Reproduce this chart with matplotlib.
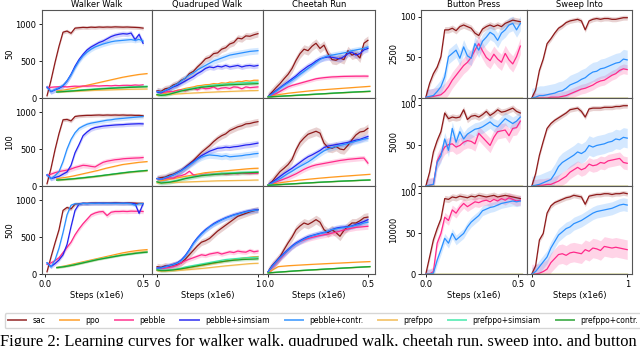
import numpy as np
import matplotlib.pyplot as plt
from matplotlib.lines import Line2D

plt.rcParams['font.size'] = 6

METHODS = ['sac', 'ppo', 'pebble', 'pebble+simsiam', 'pebble+contr.',
           'prefppo', 'prefppo+simsiam', 'prefppo+contr.']
PPO_FAMILY = ['ppo', 'prefppo', 'prefppo+simsiam', 'prefppo+contr.']
COLORS = {
    'sac': '#8e1b1b',
    'ppo': '#ff9a1f',
    'pebble': '#ff2a8a',
    'pebble+simsiam': '#2424f0',
    'pebble+contr.': '#2a90ff',
    'prefppo': '#f2b94e',
    'prefppo+simsiam': '#3ee8a8',
    'prefppo+contr.': '#1f9e2a',
}

# step range (x1e6) covered by each family of runs
walker_steps = {'pebble': (0.01, 0.5), 'ppo': (0.06, 0.52)}
quadruped_steps = {'pebble': (0.0, 1.0), 'ppo': (0.0, 1.0)}
cheetah_steps = {'pebble': (0.0, 0.5), 'ppo': (0.0, 0.51)}
button_steps = {'pebble': (0.0, 0.51), 'ppo': (0.0, 0.52)}
sweep_steps = {'pebble': (0.0, 1.0), 'ppo': (0.0, 1.0)}

# ---------------- walker walk ----------------
walker_50 = {
    'sac': [30, 240, 480, 700, 890, 905, 875, 945, 950, 955, 952, 958, 955, 960, 957, 960, 958, 962, 960, 958, 960, 957, 955, 952, 945],
    'pebble': [140, 145, 150, 152, 155, 150, 156, 160, 158, 162, 160, 163, 165, 162, 166, 168, 165, 170, 167, 171, 172, 170, 176, 172, 178],
    'pebble+simsiam': [150, 85, 110, 130, 165, 230, 320, 430, 520, 590, 650, 690, 720, 750, 770, 800, 830, 850, 862, 870, 865, 878, 790, 860, 740],
    'pebble+contr.': [140, 90, 115, 140, 170, 230, 310, 410, 500, 570, 620, 660, 690, 710, 730, 745, 760, 770, 775, 780, 785, 790, 780, 792, 770],
    'ppo': [95, 110, 130, 155, 180, 205, 230, 255, 280, 300, 318, 330],
    'prefppo': [80, 85, 90, 95, 100, 105, 108, 112, 115, 118, 120, 122],
    'prefppo+simsiam': [85, 92, 100, 110, 118, 126, 134, 140, 146, 152, 156, 160],
    'prefppo+contr.': [80, 88, 95, 104, 112, 120, 127, 133, 139, 144, 148, 152],
}
walker_50_std = {'sac': 25, 'pebble': 15, 'pebble+simsiam': 35, 'pebble+contr.': 35,
                 'ppo': 8, 'prefppo': 8, 'prefppo+simsiam': 10, 'prefppo+contr.': 10}

walker_100 = {
    'sac': [30, 240, 490, 710, 895, 900, 880, 940, 948, 952, 955, 955, 958, 960, 957, 960, 958, 960, 958, 960, 957, 958, 955, 955, 950],
    'pebble': [140, 160, 180, 195, 205, 215, 230, 250, 265, 280, 275, 265, 258, 290, 320, 335, 345, 355, 360, 368, 372, 375, 378, 380, 385],
    'pebble+simsiam': [150, 100, 115, 130, 160, 190, 280, 450, 560, 680, 730, 770, 790, 800, 810, 815, 820, 825, 828, 830, 835, 838, 840, 842, 840],
    'pebble+contr.': [150, 100, 140, 195, 330, 500, 630, 720, 780, 810, 835, 850, 860, 870, 880, 890, 895, 905, 910, 915, 920, 925, 930, 935, 940],
    'ppo': [100, 115, 135, 160, 185, 210, 240, 265, 290, 305, 320, 330],
    'prefppo': [78, 86, 95, 106, 118, 130, 145, 158, 172, 185, 196, 205],
    'prefppo+simsiam': [82, 90, 100, 112, 124, 137, 150, 165, 180, 192, 202, 212],
    'prefppo+contr.': [80, 88, 97, 108, 120, 133, 148, 162, 176, 190, 200, 210],
}
walker_100_std = {'sac': 25, 'pebble': 35, 'pebble+simsiam': 30, 'pebble+contr.': 30,
                  'ppo': 8, 'prefppo': 10, 'prefppo+simsiam': 12, 'prefppo+contr.': 12}

walker_500 = {
    'sac': [30, 230, 420, 600, 860, 900, 880, 945, 950, 955, 955, 958, 960, 957, 960, 958, 960, 962, 960, 958, 960, 960, 958, 955, 955],
    'pebble': [130, 150, 180, 220, 290, 360, 430, 530, 610, 680, 740, 800, 825, 840, 845, 790, 835, 845, 845, 848, 845, 850, 848, 850, 845],
    'pebble+simsiam': [150, 100, 140, 190, 260, 400, 640, 860, 945, 955, 952, 956, 955, 958, 955, 957, 955, 958, 956, 955, 957, 955, 950, 820, 950],
    'pebble+contr.': [150, 95, 190, 350, 560, 800, 930, 950, 945, 955, 952, 955, 957, 955, 958, 955, 957, 956, 955, 957, 955, 950, 930, 950, 950],
    'ppo': [90, 110, 135, 160, 185, 210, 235, 260, 285, 305, 320, 330],
    'prefppo': [86, 102, 122, 147, 173, 198, 220, 242, 262, 280, 295, 310],
    'prefppo+simsiam': [88, 103, 124, 150, 175, 200, 220, 240, 258, 273, 287, 298],
    'prefppo+contr.': [85, 100, 120, 145, 170, 195, 215, 235, 255, 270, 285, 295],
}
walker_500_std = {'sac': 25, 'pebble': 30, 'pebble+simsiam': 25, 'pebble+contr.': 25,
                  'ppo': 10, 'prefppo': 12, 'prefppo+simsiam': 12, 'prefppo+contr.': 12}

# ---------------- quadruped walk ----------------
quadruped_50 = {
    'sac': [100, 90, 125, 135, 175, 195, 240, 265, 330, 360, 420, 470, 530, 550, 600, 610, 660, 680, 730, 750, 810, 800, 840, 835, 855, 870],
    'pebble': [90, 70, 80, 90, 85, 100, 110, 95, 120, 130, 110, 140, 125, 130, 150, 120, 135, 140, 130, 150, 145, 125, 150, 140, 145, 150],
    'pebble+simsiam': [80, 70, 100, 120, 150, 170, 200, 230, 260, 290, 330, 360, 400, 420, 410, 430, 420, 440, 420, 430, 440, 420, 435, 440, 430, 440],
    'pebble+contr.': [90, 80, 100, 130, 160, 190, 230, 270, 310, 340, 380, 410, 440, 470, 500, 520, 540, 560, 580, 590, 600, 610, 620, 630, 635, 640],
    'ppo': [40, 50, 60, 75, 90, 105, 115, 130, 140, 150, 165, 170, 180, 182, 195, 190, 205, 200, 215, 212, 225, 222, 235, 228, 240, 240],
    'prefppo': [40, 42, 45, 48, 52, 55, 58, 62, 65, 68, 70, 73, 76, 78, 80, 83, 85, 87, 89, 91, 93, 95, 97, 99, 100, 102],
    'prefppo+simsiam': [50, 40, 45, 55, 70, 85, 100, 115, 125, 135, 145, 155, 160, 170, 175, 180, 185, 190, 195, 200, 202, 205, 208, 210, 212, 215],
    'prefppo+contr.': [45, 35, 40, 50, 65, 80, 95, 105, 115, 125, 135, 145, 150, 155, 160, 165, 170, 175, 178, 180, 183, 185, 188, 190, 192, 194],
}
quadruped_50_std = {'sac': 45, 'pebble': 20, 'pebble+simsiam': 35, 'pebble+contr.': 45,
                    'ppo': 15, 'prefppo': 10, 'prefppo+simsiam': 20, 'prefppo+contr.': 20}

quadruped_100 = {
    'sac': [100, 115, 120, 145, 160, 185, 210, 255, 300, 345, 400, 455, 500, 545, 600, 645, 680, 705, 750, 775, 800, 815, 840, 845, 860, 870],
    'pebble': [100, 90, 100, 110, 105, 130, 140, 160, 200, 150, 140, 150, 160, 155, 165, 160, 170, 160, 165, 170, 165, 175, 170, 168, 172, 172],
    'pebble+simsiam': [100, 90, 110, 130, 150, 180, 210, 250, 290, 330, 370, 410, 440, 470, 490, 510, 515, 525, 520, 530, 535, 545, 555, 560, 570, 580],
    'pebble+contr.': [100, 90, 110, 130, 150, 175, 205, 240, 280, 320, 360, 390, 410, 420, 415, 410, 400, 410, 395, 400, 405, 410, 420, 425, 435, 440],
    'ppo': [60, 70, 80, 90, 100, 110, 120, 130, 140, 150, 160, 170, 180, 185, 190, 195, 200, 205, 210, 215, 220, 225, 230, 235, 238, 240],
    'prefppo': [40, 42, 44, 46, 48, 50, 52, 54, 56, 58, 60, 62, 64, 66, 68, 70, 71, 72, 73, 74, 75, 76, 77, 78, 80, 81],
    'prefppo+simsiam': [60, 45, 50, 55, 65, 78, 92, 105, 118, 128, 138, 146, 152, 158, 163, 168, 172, 175, 178, 180, 183, 185, 187, 189, 190, 192],
    'prefppo+contr.': [55, 40, 45, 50, 60, 70, 85, 100, 110, 120, 130, 140, 145, 150, 155, 160, 162, 165, 168, 170, 173, 176, 178, 180, 182, 185],
}
quadruped_100_std = {'sac': 45, 'pebble': 20, 'pebble+simsiam': 40, 'pebble+contr.': 45,
                     'ppo': 15, 'prefppo': 10, 'prefppo+simsiam': 25, 'prefppo+contr.': 25}

quadruped_500 = {
    'sac': [100, 90, 110, 100, 120, 130, 150, 200, 260, 320, 380, 430, 450, 480, 530, 580, 620, 660, 700, 740, 780, 800, 820, 840, 855, 870],
    'pebble': [80, 70, 80, 90, 100, 120, 150, 180, 200, 220, 240, 260, 250, 270, 280, 290, 270, 285, 300, 290, 310, 300, 295, 320, 300, 310],
    'pebble+simsiam': [80, 85, 100, 115, 130, 150, 190, 250, 330, 420, 490, 550, 600, 640, 680, 710, 735, 760, 780, 800, 815, 830, 845, 855, 865, 870],
    'pebble+contr.': [80, 80, 95, 110, 125, 145, 180, 240, 320, 410, 480, 540, 590, 635, 670, 700, 730, 755, 775, 795, 810, 825, 840, 850, 860, 865],
    'ppo': [50, 45, 48, 52, 56, 60, 68, 75, 85, 95, 105, 115, 125, 135, 145, 155, 165, 175, 185, 195, 205, 212, 220, 226, 232, 236],
    'prefppo': [45, 40, 40, 42, 45, 48, 52, 56, 60, 65, 70, 75, 80, 86, 92, 98, 104, 110, 115, 120, 125, 130, 135, 140, 143, 145],
    'prefppo+simsiam': [60, 50, 50, 55, 60, 70, 80, 95, 105, 115, 125, 135, 145, 155, 165, 175, 185, 195, 200, 205, 210, 215, 220, 222, 225, 228],
    'prefppo+contr.': [55, 45, 45, 50, 55, 62, 70, 80, 90, 100, 110, 120, 130, 140, 150, 158, 166, 174, 180, 186, 190, 195, 198, 200, 202, 205],
}
quadruped_500_std = {'sac': 45, 'pebble': 30, 'pebble+simsiam': 35, 'pebble+contr.': 35,
                     'ppo': 15, 'prefppo': 10, 'prefppo+simsiam': 20, 'prefppo+contr.': 20}

# ---------------- cheetah run ----------------
cheetah_50 = {
    'sac': [20, 80, 140, 195, 260, 320, 400, 510, 600, 660, 640, 700, 740, 670, 715, 600, 520, 510, 540, 520, 640, 580, 600, 540, 740, 780],
    'pebble': [20, 40, 60, 90, 120, 150, 170, 185, 200, 215, 230, 245, 260, 268, 275, 280, 285, 287, 290, 292, 293, 294, 295, 295, 296, 295],
    'pebble+simsiam': [20, 60, 100, 140, 180, 220, 260, 300, 350, 390, 430, 460, 500, 530, 545, 555, 550, 540, 530, 560, 600, 620, 580, 600, 650, 670],
    'pebble+contr.': [20, 50, 90, 130, 170, 205, 240, 280, 320, 360, 400, 440, 480, 520, 550, 570, 580, 590, 600, 610, 620, 640, 650, 660, 670, 690],
    'ppo': [20, 45, 65, 80, 95, 108, 118, 128, 138, 148, 158],
    'prefppo': [15, 22, 29, 36, 44, 52, 60, 67, 74, 81, 88],
    'prefppo+simsiam': [15, 23, 31, 39, 47, 55, 63, 71, 78, 85, 92],
    'prefppo+contr.': [15, 22, 30, 38, 46, 54, 62, 70, 77, 84, 90],
}
cheetah_50_std = {'sac': 60, 'pebble': 25, 'pebble+simsiam': 45, 'pebble+contr.': 40,
                  'ppo': 5, 'prefppo': 5, 'prefppo+simsiam': 5, 'prefppo+contr.': 5}

cheetah_100 = {
    'sac': [15, 60, 130, 195, 240, 290, 360, 490, 590, 650, 700, 720, 740, 715, 580, 520, 510, 535, 500, 490, 550, 625, 690, 730, 740, 780],
    'pebble': [15, 35, 55, 75, 95, 115, 140, 165, 195, 225, 250, 270, 285, 295, 305, 315, 325, 335, 345, 352, 360, 365, 370, 375, 378, 310],
    'pebble+simsiam': [15, 50, 90, 130, 170, 205, 240, 280, 320, 360, 395, 420, 450, 480, 520, 540, 550, 560, 570, 580, 590, 605, 620, 630, 650, 670],
    'pebble+contr.': [15, 40, 70, 100, 135, 170, 200, 235, 265, 295, 325, 360, 400, 440, 475, 500, 520, 535, 550, 560, 575, 590, 605, 620, 635, 645],
    'ppo': [15, 40, 60, 78, 92, 105, 117, 128, 138, 148, 158],
    'prefppo': [10, 17, 25, 33, 41, 49, 56, 63, 69, 75, 80],
    'prefppo+simsiam': [10, 18, 26, 35, 43, 51, 58, 65, 71, 77, 83],
    'prefppo+contr.': [10, 18, 26, 34, 42, 50, 57, 64, 70, 76, 81],
}
cheetah_100_std = {'sac': 60, 'pebble': 35, 'pebble+simsiam': 40, 'pebble+contr.': 40,
                   'ppo': 5, 'prefppo': 5, 'prefppo+simsiam': 5, 'prefppo+contr.': 5}

cheetah_500 = {
    'sac': [30, 110, 170, 236, 330, 420, 500, 598, 650, 690, 670, 700, 735, 700, 600, 560, 598, 560, 510, 590, 645, 690, 690, 720, 760, 770],
    'pebble': [30, 90, 150, 210, 260, 320, 370, 410, 440, 460, 480, 495, 508, 520, 530, 540, 553, 565, 580, 595, 610, 620, 630, 635, 640, 645],
    'pebble+simsiam': [30, 110, 170, 230, 280, 330, 380, 420, 450, 480, 505, 520, 535, 550, 560, 575, 600, 620, 630, 635, 640, 650, 670, 690, 710, 735],
    'pebble+contr.': [30, 100, 160, 220, 270, 320, 370, 410, 440, 470, 495, 515, 530, 545, 560, 580, 600, 610, 620, 625, 635, 645, 660, 670, 690, 700],
    'ppo': [20, 100, 112, 120, 128, 135, 142, 148, 155, 162, 168],
    'prefppo': [15, 24, 34, 44, 52, 60, 68, 76, 84, 91, 98],
    'prefppo+simsiam': [15, 26, 36, 46, 54, 62, 70, 78, 86, 93, 101],
    'prefppo+contr.': [15, 25, 35, 45, 53, 61, 69, 77, 85, 92, 100],
}
cheetah_500_std = {'sac': 60, 'pebble': 40, 'pebble+simsiam': 40, 'pebble+contr.': 40,
                   'ppo': 6, 'prefppo': 5, 'prefppo+simsiam': 5, 'prefppo+contr.': 5}

# ---------------- button press ----------------
button_2500 = {
    'sac': [1, 18, 30, 38, 51, 84, 84, 86, 83, 88, 90, 88, 86, 80, 77, 85, 88, 90, 88, 90, 88, 92, 94, 96, 95, 94],
    'pebble': [1, 1, 2, 3, 4, 8, 14, 22, 28, 34, 40, 44, 50, 59, 67, 58, 50, 46, 54, 48, 44, 55, 47, 42, 51, 64],
    'pebble+contr.': [1, 2, 3, 8, 14, 26, 51, 55, 59, 49, 63, 52, 49, 67, 59, 70, 75, 81, 78, 71, 80, 84, 90, 92, 84, 92],
    'ppo': [0, 0],
    'prefppo': [0, 0],
    'prefppo+contr.': [0, 0],
}
button_2500_std = {'sac': 4, 'pebble': 10, 'pebble+contr.': 9}

button_5000 = {
    'sac': [0, 17, 42, 56, 67, 90, 83, 85, 84, 85, 94, 82, 86, 87, 85, 88, 92, 87, 90, 94, 91, 92, 94, 96, 92, 90],
    'pebble': [0, 1, 2, 31, 40, 48, 51, 52, 48, 50, 54, 56, 55, 52, 65, 60, 55, 50, 60, 67, 68, 69, 62, 71, 72, 80],
    'pebble+contr.': [0, 1, 2, 29, 37, 58, 44, 71, 54, 67, 58, 64, 67, 70, 71, 73, 76, 79, 75, 73, 78, 83, 80, 77, 80, 85],
    'ppo': [0, 0],
    'prefppo': [0, 0],
    'prefppo+contr.': [0, 0],
}
button_5000_std = {'sac': 4, 'pebble': 9, 'pebble+contr.': 8}

button_10000 = {
    'sac': [0, 21, 42, 56, 68, 93, 92, 95, 94, 96, 95, 94, 96, 95, 97, 96, 95, 96, 97, 95, 96, 97, 96, 95, 94, 93],
    'pebble': [0, 0, 3, 38, 50, 70, 66, 79, 75, 82, 87, 83, 86, 89, 88, 90, 91, 89, 92, 90, 93, 91, 94, 92, 90, 91],
    'pebble+contr.': [0, 0, 1, 17, 30, 44, 38, 50, 42, 46, 50, 58, 64, 68, 72, 78, 80, 82, 83, 85, 87, 88, 89, 90, 89, 90],
    'ppo': [0, 0],
    'prefppo': [0, 0],
    'prefppo+contr.': [0, 0],
}
button_10000_std = {'sac': 4, 'pebble': 6, 'pebble+contr.': 6}

# ---------------- sweep into ----------------
sweep_2500 = {
    'sac': [0, 10, 34, 48, 67, 73, 80, 86, 89, 93, 95, 96, 97, 95, 84, 95, 97, 98, 97, 98, 98, 97, 97, 98, 99, 99],
    'pebble': [0, 0, 0, 0, 0, 1, 1, 1, 2, 3, 5, 7, 9, 11, 12, 14, 16, 19, 21, 22, 25, 28, 30, 34, 36, 35],
    'pebble+contr.': [0, 1, 3, 3, 4, 5, 6, 8, 9, 12, 16, 18, 20, 23, 25, 29, 32, 33, 36, 37, 39, 41, 43, 44, 48, 47],
    'ppo': [0, 0],
    'prefppo': [0, 0],
    'prefppo+contr.': [0, 0],
}
sweep_2500_std = {'sac': 3, 'pebble': 6, 'pebble+contr.': 12}

sweep_5000 = {
    'sac': [0, 15, 38, 55, 71, 77, 81, 84, 87, 90, 94, 95, 96, 92, 85, 95, 96, 96, 96, 97, 97, 97, 98, 98, 99, 99],
    'pebble': [0, 0, 1, 1, 2, 2, 4, 6, 9, 12, 17, 20, 23, 20, 22, 27, 25, 26, 29, 28, 31, 32, 33, 34, 29, 28],
    'pebble+contr.': [0, 1, 2, 4, 6, 8, 15, 24, 29, 32, 35, 38, 42, 40, 43, 50, 48, 50, 51, 52, 54, 55, 58, 57, 60, 59],
    'ppo': [0, 0],
    'prefppo': [0, 0],
    'prefppo+contr.': [0, 0],
}
sweep_5000_std = {'sac': 3, 'pebble': 8, 'pebble+contr.': 12}

sweep_10000 = {
    'sac': [0, 10, 42, 50, 75, 84, 88, 90, 92, 94, 95, 97, 96, 95, 86, 96, 97, 98, 98, 99, 99, 98, 99, 99, 100, 99],
    'pebble': [0, 0, 1, 3, 6, 14, 19, 24, 25, 23, 26, 27, 26, 25, 30, 28, 32, 31, 29, 34, 33, 32, 33, 32, 31, 30],
    'pebble+contr.': [0, 3, 9, 15, 21, 32, 40, 48, 52, 56, 58, 62, 64, 66, 69, 72, 75, 77, 78, 79, 80, 81, 83, 85, 86, 85],
    'ppo': [0, 0],
    'prefppo': [0, 0],
    'prefppo+contr.': [0, 0],
}
sweep_10000_std = {'sac': 3, 'pebble': 12, 'pebble+contr.': 8}

left_titles = ['Walker Walk', 'Quadruped Walk', 'Cheetah Run']
right_titles = ['Button Press', 'Sweep Into']
left_rows = ['50', '100', '500']
right_rows = ['2500', '5000', '10000']

left_panels = [
    [(walker_50, walker_50_std, walker_steps), (quadruped_50, quadruped_50_std, quadruped_steps), (cheetah_50, cheetah_50_std, cheetah_steps)],
    [(walker_100, walker_100_std, walker_steps), (quadruped_100, quadruped_100_std, quadruped_steps), (cheetah_100, cheetah_100_std, cheetah_steps)],
    [(walker_500, walker_500_std, walker_steps), (quadruped_500, quadruped_500_std, quadruped_steps), (cheetah_500, cheetah_500_std, cheetah_steps)],
]
right_panels = [
    [(button_2500, button_2500_std, button_steps), (sweep_2500, sweep_2500_std, sweep_steps)],
    [(button_5000, button_5000_std, button_steps), (sweep_5000, sweep_5000_std, sweep_steps)],
    [(button_10000, button_10000_std, button_steps), (sweep_10000, sweep_10000_std, sweep_steps)],
]


def draw_panel(ax, data, spread, steps):
    for m in METHODS:
        if m not in data:
            continue
        y = np.array(data[m], dtype=float)
        lo, hi = steps['ppo'] if m in PPO_FAMILY else steps['pebble']
        x = np.linspace(lo, hi, len(y))
        s = spread.get(m, 0)
        if s:
            ax.fill_between(x, y - s, y + s, color=COLORS[m], alpha=0.2, lw=0)
        ax.plot(x, y, color=COLORS[m], lw=0.9)


W, H = 640, 346
fig = plt.figure(figsize=(W / 100, H / 100), dpi=100)

row_edges = [10, 98, 186, 274]
left_cols = [42, 152, 263, 375]
right_cols = [421, 527, 632]


def add_grid(cols, panels, titles, row_names, ylim, yticks, xticks_list):
    for r in range(3):
        for c in range(len(cols) - 1):
            x0, x1 = cols[c], cols[c + 1]
            y0, y1 = row_edges[r], row_edges[r + 1]
            ax = fig.add_axes([x0 / W, 1 - y1 / H, (x1 - x0) / W, (y1 - y0) / H])
            data, spread, steps = panels[r][c]
            draw_panel(ax, data, spread, steps)
            ax.set_ylim(*ylim)
            for sp in ax.spines.values():
                sp.set_color('#555555')
                sp.set_linewidth(0.8)
            ax.tick_params(length=2.5, width=0.6, pad=1.5, labelsize=6)
            if c == 0:
                ax.set_yticks(yticks)
                ax.set_ylabel(row_names[r], fontsize=6, labelpad=1)
            else:
                ax.set_yticks([])
            if r == 2:
                ax.set_xticks(xticks_list[c])
                ax.set_xlabel('Steps (x1e6)', fontsize=6, labelpad=2)
            else:
                ax.set_xticks([])
            if r == 0:
                ax.set_title(titles[c], fontsize=6, pad=2)


add_grid(left_cols, left_panels, left_titles, left_rows, (0, 1190), [0, 500, 1000],
         [[0.0, 0.5], [0, 1], [0.0, 0.5]])
add_grid(right_cols, right_panels, right_titles, right_rows, (0, 108.5), [0, 50, 100],
         [[0.0, 0.5], [0, 1]])

handles = [Line2D([0], [0], color=COLORS[m], lw=1.4, alpha=0.75) for m in METHODS]
fig.legend(handles, METHODS, loc='lower left', ncol=8,
           bbox_to_anchor=(1 / W, 1 - 332 / H),
           fontsize=5.5, handlelength=2.4, frameon=True, edgecolor='#cccccc',
           borderpad=0.4, handletextpad=0.8, columnspacing=2.0)

fig.text(0.0, 1 - 334 / H,
         'Figure 2: Learning curves for walker walk, quadruped walk, cheetah run, sweep into, and button',
         family='Liberation Serif', fontsize=11.9, va='top', ha='left')

fig.savefig('out.png', dpi=100)
